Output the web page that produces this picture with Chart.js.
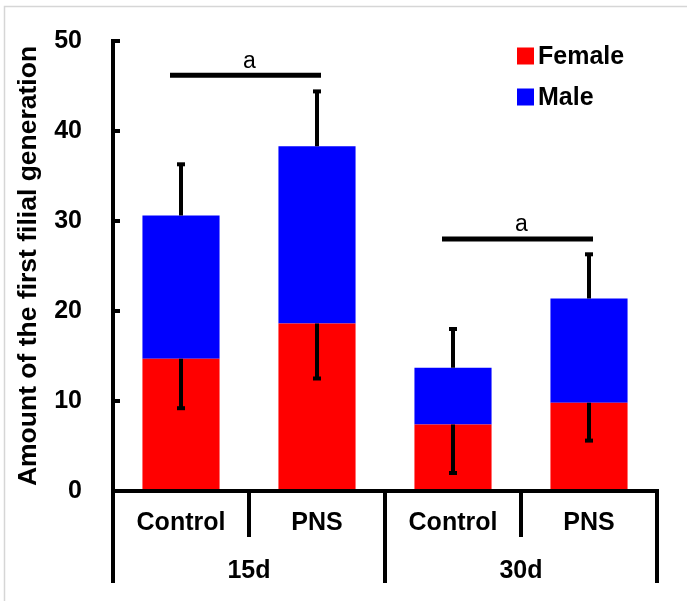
<!DOCTYPE html>
<html>
<head>
<meta charset="utf-8">
<script src="https://cdn.jsdelivr.net/npm/chart.js@4/dist/chart.umd.min.js"></script>
<style>
  html, body { margin: 0; padding: 0; background: #fff; }
  #wrap { width: 687px; height: 601px; position: relative; }
</style>
</head>
<body>
<div id="wrap"><canvas id="myBarChart" width="687" height="601"></canvas></div>
<script>
// data
var categories = ['Control', 'PNS', 'Control', 'PNS'];
var groups = ['15d', '30d'];
var female = [14.7, 18.6, 7.4, 9.8];
var male = [15.9, 19.7, 6.3, 11.6];
var femaleErr = [5.5, 6.1, 5.4, 4.2];
var maleErr = [5.7, 6.1, 4.3, 4.9];
var yTicks = [0, 10, 20, 30, 40, 50];
var sigLevels = [46.2, 28.0];
var sigLabels = ['a', 'a'];

var boldFont = '"Liberation Sans", Arial, sans-serif';

// axes, error bars, grouped labels, legend, significance marks
var extras = {
    id: 'extras',
    afterDatasetsDraw: function(chart) {
        var ctx = chart.ctx;
        var x = chart.scales.x, y = chart.scales.y;
        var area = chart.chartArea;
        var step = x.getPixelForValue(1) - x.getPixelForValue(0);
        ctx.save();

        // light frame of the original picture
        ctx.strokeStyle = '#d6d6d6';
        ctx.lineWidth = 1.5;
        ctx.beginPath();
        ctx.moveTo(4.5, 601); ctx.lineTo(4.5, 6.5); ctx.lineTo(687, 6.5);
        ctx.stroke();

        // error bars
        ctx.strokeStyle = '#000';
        ctx.fillStyle = '#000';
        ctx.lineWidth = 4;
        for (var i = 0; i < categories.length; i++) {
            var cx = x.getPixelForValue(i);
            var fTop = y.getPixelForValue(female[i]);
            var fLow = y.getPixelForValue(female[i] - femaleErr[i]);
            var tTop = y.getPixelForValue(female[i] + male[i]);
            var mUp = y.getPixelForValue(female[i] + male[i] + maleErr[i]);
            ctx.beginPath();
            ctx.moveTo(cx, fTop); ctx.lineTo(cx, fLow);
            ctx.moveTo(cx, tTop); ctx.lineTo(cx, mUp);
            ctx.stroke();
            ctx.fillRect(cx - 4, fLow - 2, 8, 4);
            ctx.fillRect(cx - 4, mUp - 2, 8, 4);
        }

        // axis lines
        var left = area.left, right = area.right, base = y.getPixelForValue(0);
        ctx.lineWidth = 4;
        ctx.beginPath();
        ctx.moveTo(left, y.getPixelForValue(50) - 2); ctx.lineTo(left, 583);
        ctx.moveTo(left, base); ctx.lineTo(right, base);
        ctx.moveTo(right, base - 2); ctx.lineTo(right, 583);
        ctx.stroke();
        // inner tick marks
        yTicks.forEach(function(v) {
            var py = y.getPixelForValue(v);
            ctx.fillRect(left, py - 2, 7, 4);
        });
        // separators
        ctx.beginPath();
        for (var k = 1; k < categories.length; k++) {
            var sx = x.getPixelForValue(k) - step / 2;
            ctx.moveTo(sx, base);
            ctx.lineTo(sx, k % 2 === 0 ? 583 : 537);
        }
        ctx.stroke();

        // category labels
        ctx.font = 'bold 25px ' + boldFont;
        ctx.textAlign = 'center';
        ctx.textBaseline = 'middle';
        categories.forEach(function(c, i) {
            ctx.fillText(c, x.getPixelForValue(i), 523);
        });
        groups.forEach(function(g, j) {
            var gx = (x.getPixelForValue(j * 2) + x.getPixelForValue(j * 2 + 1)) / 2;
            ctx.fillText(g, gx, 571);
        });

        // significance lines
        ctx.lineWidth = 5;
        ctx.font = '23px ' + boldFont;
        sigLevels.forEach(function(v, j) {
            var x0 = x.getPixelForValue(j * 2) - 11;
            var x1 = x.getPixelForValue(j * 2 + 1) + 4;
            var py = y.getPixelForValue(v);
            ctx.beginPath();
            ctx.moveTo(x0, py); ctx.lineTo(x1, py);
            ctx.stroke();
            ctx.fillText(sigLabels[j], (x0 + x1) / 2 + 4, py - 14);
        });

        // legend
        ctx.font = 'bold 25px ' + boldFont;
        ctx.textAlign = 'left';
        chart.data.datasets.forEach(function(ds, j) {
            var ly = 56 + j * 41;
            ctx.fillStyle = ds.backgroundColor;
            ctx.fillRect(517, ly - 8.5, 17, 17);
            ctx.fillStyle = '#000';
            ctx.fillText(ds.label, 538, ly + 1);
        });
        ctx.restore();
    }
};

var ctx = document.getElementById('myBarChart').getContext('2d');
var myBarChart = new Chart(ctx, {
    type: 'bar',
    data: {
        labels: categories,
        datasets: [
            { label: 'Female', data: female, backgroundColor: '#FF0000', barPercentage: 0.567, categoryPercentage: 1 },
            { label: 'Male', data: male, backgroundColor: '#0000FF', barPercentage: 0.567, categoryPercentage: 1 }
        ]
    },
    options: {
        responsive: false,
        animation: false,
        layout: { padding: { left: 0, right: 30, top: 41, bottom: 110 } },
        plugins: { legend: { display: false }, tooltip: { enabled: false } },
        scales: {
            x: { stacked: true, display: false },
            y: {
                stacked: true,
                min: 0,
                max: 50,
                afterFit: function(scale) {
                    scale.width = 113;
                    scale.paddingTop = 0;
                    scale.paddingBottom = 0;
                },
                afterBuildTicks: function(scale) {
                    scale.ticks = yTicks.map(function(v) { return { value: v }; });
                },
                grid: { display: false, drawTicks: false },
                border: { display: false },
                ticks: { color: '#000', padding: 31, font: { family: boldFont, size: 25, weight: 'bold' } },
                title: {
                    display: true,
                    text: 'Amount of the first filial generation',
                    color: '#000',
                    padding: { top: 13, bottom: 0 },
                    font: { family: boldFont, size: 26.5, weight: 'bold' }
                }
            }
        }
    },
    plugins: [extras]
});
</script>
</body>
</html>
